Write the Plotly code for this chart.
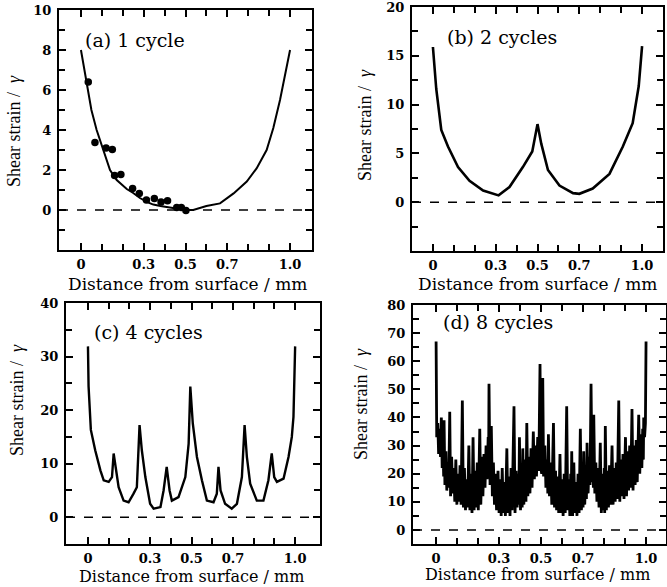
import plotly.graph_objects as go

W, H = 667, 587

# ---------------- data ----------------
a_x = [0, 0.01, 0.027, 0.05, 0.075, 0.107, 0.139, 0.171, 0.219, 0.25, 0.282, 0.32, 0.346, 0.38,
       0.426, 0.47, 0.5, 0.537, 0.6, 0.665, 0.73, 0.793, 0.84, 0.888, 0.92, 0.952, 0.984, 1.0]
a_y = [8, 7.4, 6.5, 5.0, 4.0, 3.0, 2.0, 1.5, 1.05, 0.85, 0.6, 0.38, 0.27, 0.2,
       0.12, 0.06, 0.0, 0.0, 0.2, 0.33, 0.83, 1.42, 2.08, 3.0, 4.1, 5.5, 7.2, 8.0]

a_dot_x = [0.035, 0.067, 0.120, 0.150, 0.161, 0.191, 0.247, 0.279, 0.313, 0.351, 0.383, 0.414,
           0.458, 0.480, 0.502]
a_dot_y = [6.4, 3.37, 3.1, 3.02, 1.72, 1.78, 1.08, 0.82, 0.5, 0.58, 0.4, 0.46,
           0.13, 0.13, -0.03]

b_x = [0, 0.016, 0.04, 0.072, 0.12, 0.175, 0.24, 0.29, 0.314, 0.366, 0.43, 0.475, 0.494, 0.5,
       0.518, 0.55, 0.605, 0.67, 0.70, 0.764, 0.844, 0.908, 0.955, 0.984, 1.0]
b_y = [15.9, 11.6, 7.4, 5.7, 3.6, 2.2, 1.2, 0.85, 0.7, 1.55, 3.6, 5.2, 7.6, 8.0,
       6.0, 3.3, 1.7, 0.93, 0.86, 1.4, 2.9, 5.7, 8.1, 11.9, 16.0]

c_x = [0, 0.003, 0.014, 0.035, 0.06, 0.076, 0.1, 0.116, 0.124, 0.137, 0.148, 0.172, 0.196, 0.22,
       0.236, 0.249, 0.26, 0.277, 0.3, 0.317, 0.35, 0.365, 0.38, 0.394, 0.405, 0.437, 0.47, 0.486,
       0.494, 0.506, 0.526, 0.55, 0.574, 0.606, 0.622, 0.63, 0.64, 0.662, 0.694, 0.719, 0.743,
       0.756, 0.767, 0.783, 0.815, 0.847, 0.871, 0.887, 0.899, 0.912, 0.944, 0.968, 0.984, 0.992, 1.0]
c_y = [31.9, 24.4, 16.3, 12.5, 8.75, 6.9, 6.6, 7.5, 11.9, 8.75, 5.6, 3.1, 2.8, 4.4,
       5.6, 17.2, 12.5, 7.5, 2.5, 1.6, 1.9, 5, 9.4, 5, 3.1, 3.75, 7.5, 13.75,
       24.4, 17.5, 11.25, 6.9, 3.1, 2.8, 4.4, 9.4, 5, 2.5, 1.6, 2.5, 7.5,
       17.2, 11.25, 6.25, 3.1, 3.1, 6.9, 11.9, 7.5, 6.6, 7.2, 11.25, 15, 18.75, 31.9]

d_x = [0.000, 0.003, 0.008, 0.012, 0.017, 0.021, 0.025, 0.029, 0.033, 0.036,
       0.038, 0.042, 0.047, 0.051, 0.056, 0.060, 0.065, 0.069, 0.074, 0.079,
       0.084, 0.089, 0.094, 0.099, 0.104, 0.109, 0.114, 0.119, 0.125, 0.130,
       0.135, 0.140, 0.145, 0.150, 0.156, 0.161, 0.166, 0.171, 0.176, 0.181,
       0.186, 0.191, 0.196, 0.201, 0.208, 0.213, 0.218, 0.223, 0.228, 0.233,
       0.238, 0.243, 0.248, 0.250, 0.252, 0.257, 0.263, 0.268, 0.273, 0.278,
       0.283, 0.288, 0.295, 0.300, 0.305, 0.310, 0.315, 0.320, 0.325, 0.330,
       0.337, 0.342, 0.347, 0.352, 0.357, 0.362, 0.371, 0.376, 0.381, 0.386,
       0.391, 0.394, 0.397, 0.402, 0.407, 0.410, 0.413, 0.418, 0.423, 0.428,
       0.432, 0.437, 0.442, 0.447, 0.452, 0.457, 0.463, 0.468, 0.473, 0.478,
       0.484, 0.489, 0.495, 0.499, 0.503, 0.508, 0.512, 0.518, 0.523, 0.529,
       0.532, 0.535, 0.540, 0.546, 0.551, 0.559, 0.564, 0.569, 0.574, 0.579,
       0.584, 0.590, 0.595, 0.600, 0.605, 0.610, 0.615, 0.622, 0.627, 0.632,
       0.637, 0.641, 0.643, 0.646, 0.650, 0.656, 0.661, 0.666, 0.671, 0.676,
       0.681, 0.687, 0.692, 0.698, 0.700, 0.703, 0.708, 0.713, 0.716, 0.719,
       0.724, 0.729, 0.733, 0.738, 0.743, 0.747, 0.749, 0.751, 0.756, 0.761,
       0.766, 0.771, 0.776, 0.782, 0.787, 0.792, 0.797, 0.801, 0.803, 0.806,
       0.811, 0.816, 0.821, 0.826, 0.831, 0.838, 0.843, 0.848, 0.853, 0.858,
       0.863, 0.870, 0.875, 0.880, 0.885, 0.890, 0.895, 0.902, 0.907, 0.912,
       0.917, 0.922, 0.927, 0.933, 0.938, 0.943, 0.948, 0.953, 0.958, 0.965,
       0.970, 0.975, 0.980, 0.984, 0.987, 0.989, 0.993, 0.997, 1.000]
d_y = [67, 33, 38, 27, 36, 26, 40, 22, 30, 19,
       39, 16, 28, 14, 24, 15, 42, 12, 26, 13,
       22, 10, 25, 9, 20, 10, 23, 9, 46, 8,
       22, 7, 18, 8, 30, 7, 20, 6, 33, 7,
       21, 8, 24, 7, 36, 9, 26, 12, 27, 15,
       30, 18, 33, 20, 52, 16, 37, 12, 24, 9,
       20, 7, 21, 6, 18, 5, 22, 6, 17, 5,
       29, 6, 19, 5, 22, 7, 44, 6, 21, 8,
       20, 9, 33, 7, 22, 8, 29, 9, 25, 10,
       38, 12, 26, 13, 29, 15, 35, 18, 30, 19,
       33, 21, 59, 22, 20, 54, 19, 30, 15, 25,
       13, 34, 12, 24, 9, 38, 8, 21, 7, 19,
       6, 27, 6, 18, 5, 20, 6, 44, 7, 18,
       5, 20, 6, 28, 5, 24, 6, 17, 5, 20,
       6, 36, 7, 19, 8, 28, 9, 22, 11, 31,
       13, 26, 16, 52, 17, 30, 15, 41, 13, 24,
       10, 22, 8, 31, 6, 20, 7, 22, 6, 37,
       7, 21, 8, 23, 9, 30, 9, 22, 10, 24,
       11, 46, 10, 25, 12, 27, 11, 33, 12, 28,
       14, 30, 15, 43, 14, 30, 16, 32, 17, 41,
       20, 34, 22, 36, 25, 40, 33, 38, 67]

x_tickvals = [0, 0.3, 0.5, 0.7, 1.0]
x_ticktext = ["0", "0.3", "0.5", "0.7", "1.0"]
x_minorvals = [0.1, 0.2, 0.4, 0.6, 0.8, 0.9]

y_tickvals = [[0, 2, 4, 6, 8, 10], [0, 5, 10, 15, 20],
              [0, 10, 20, 30, 40], [0, 10, 20, 30, 40, 50, 60, 70, 80]]
y_ranges = [[-2, 10], [-5, 20], [-5, 40], [-5, 80]]
y_minor_dtick = [1, 2.5, 5, 5]

panel_labels = ["(a) 1 cycle", "(b) 2 cycles", "(c) 4 cycles", "(d) 8 cycles"]
x_title = "Distance from surface / mm"
y_title = "Shear strain /  <i>γ</i>"

x_ranges = [[-0.105, 1.105], [-0.1, 1.1], [-0.106, 1.12], [-0.11, 1.095]]

# panel frames in pixels: left, right, top, bottom
frames = [(59, 312, 10, 250), (412, 663, 7, 251), (66, 320, 303, 544), (413, 666, 305, 544)]

SERIF = "DejaVu Serif"
fig = go.Figure()

series = [(a_x, a_y, 2), (b_x, b_y, 2.6), (c_x, c_y, 2.4), (d_x, d_y, 2.8)]
for i, (xs, ys, lw) in enumerate(series):
    sfx = "" if i == 0 else str(i + 1)
    fig.add_trace(go.Scatter(x=xs, y=ys, mode="lines", line=dict(color="black", width=lw),
                             xaxis="x" + sfx, yaxis="y" + sfx, showlegend=False))
fig.add_trace(go.Scatter(x=a_dot_x, y=a_dot_y, mode="markers",
                         marker=dict(color="black", size=7.5), xaxis="x", yaxis="y",
                         showlegend=False))

tickfont = dict(family=SERIF, size=13, color="black", weight="bold")
for i in range(4):
    l, r, t, b = frames[i]
    sfx = "" if i == 0 else str(i + 1)
    common = dict(showline=True, linecolor="black", linewidth=2, mirror="allticks",
                  ticks="inside", ticklen=7, tickwidth=1.5, tickcolor="black",
                  showgrid=False, zeroline=False, tickfont=tickfont, automargin=False,
                  ticklabeloverflow="allow")
    fig.layout["xaxis" + sfx] = dict(
        domain=[l / W, r / W], range=x_ranges[i], anchor="y" + sfx,
        tickmode="array", tickvals=x_tickvals, ticktext=x_ticktext,
        minor=dict(tickmode="array", tickvals=x_minorvals, ticks="inside", ticklen=6,
                   tickwidth=1.5, tickcolor="black"),
        ticklabelstandoff=1, **common)
    fig.layout["yaxis" + sfx] = dict(
        domain=[1 - b / H, 1 - t / H], range=y_ranges[i], anchor="x" + sfx,
        tickmode="array", tickvals=y_tickvals[i],
        minor=dict(tickmode="linear", tick0=0, dtick=y_minor_dtick[i], ticks="inside",
                   ticklen=6, tickwidth=1.5, tickcolor="black"),
        ticklabelstandoff=3, **common)
    # dashed zero line
    fig.add_shape(type="line", xref="x" + sfx + " domain", yref="y" + sfx,
                  x0=0, x1=1, y0=0, y1=0, line=dict(color="black", width=1.6, dash="dash"))

# panel labels
label_pos = [(83, 40), (445, 37), (92, 332), (441, 322)]
for (px, py), txt in zip(label_pos, panel_labels):
    fig.add_annotation(x=px / W, y=1 - py / H, xref="paper", yref="paper", text=txt,
                       showarrow=False, xanchor="left", yanchor="middle",
                       font=dict(family=SERIF, size=19, color="black"))

# x titles
xt_pos = [(187, 284, 17), (537, 284, 17), (192, 576, 16), (537, 574, 16)]
for px, py, fs in xt_pos:
    fig.add_annotation(x=px / W, y=1 - py / H, xref="paper", yref="paper", text=x_title,
                       showarrow=False, xanchor="center", yanchor="middle",
                       font=dict(family=SERIF, size=fs, color="black"))

# y titles
yt_pos = [(14, 131), (365, 125), (17, 400), (361, 404)]
for px, py in yt_pos:
    fig.add_annotation(x=px / W, y=1 - py / H, xref="paper", yref="paper", text=y_title,
                       showarrow=False, xanchor="center", yanchor="middle", textangle=-90,
                       font=dict(family="Liberation Serif", size=18, color="black"))

fig.update_layout(width=W, height=H, margin=dict(l=0, r=0, t=0, b=0),
                  paper_bgcolor="white", plot_bgcolor="white", template="none")

fig.write_html("out.html")
